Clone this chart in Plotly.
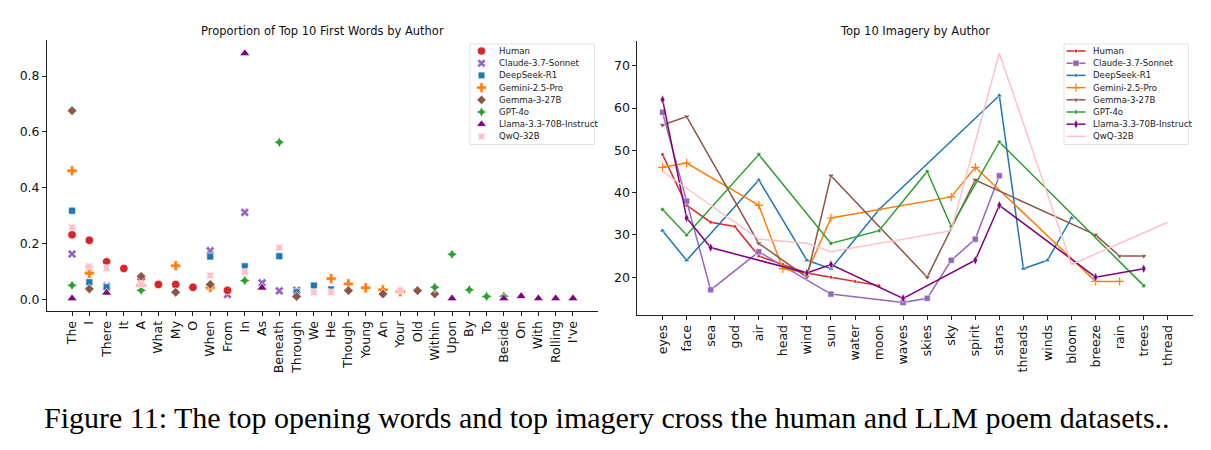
import plotly.graph_objects as go

N = None
# ---------------- Left panel data: proportion of top-10 first words ----------------
first_words = ["The", "I", "There", "It", "A", "What", "My", "O", "When", "From",
               "In", "As", "Beneath", "Through", "We", "He", "Though", "Young", "An", "Your",
               "Old", "Within", "Upon", "By", "To", "Beside", "On", "With", "Rolling", "I've"]

#            The    I      There  It     A      What   My     O      When   From
fw_human = [0.232, 0.212, 0.135, 0.111, 0.075, 0.054, 0.054, 0.044, 0.044, 0.033,
            N, N, N, N, N, N, N, N, N, N,
            N, N, N, N, N, N, N, N, N, N]
fw_claude = [0.163, 0.110, 0.048, N, 0.070, N, N, N, 0.175, 0.018,
             0.312, 0.060, 0.031, 0.033, N, N, N, N, N, N,
             N, N, N, N, N, N, N, N, N, N]
fw_deepseek = [0.318, 0.062, 0.044, N, N, N, N, N, 0.154, N,
               0.119, N, 0.155, 0.026, 0.050, 0.036, N, N, N, N,
               N, N, N, N, N, N, N, N, N, N]
fw_gemini = [0.461, 0.094, N, N, 0.050, N, 0.121, N, 0.043, N,
             N, N, N, N, N, 0.075, 0.056, 0.042, 0.035, 0.028,
             N, N, N, N, N, N, N, N, N, N]
fw_gemma = [0.676, 0.038, N, N, 0.083, N, 0.026, N, 0.054, N,
            N, N, N, 0.011, N, N, 0.032, N, 0.020, N,
            0.032, 0.020, N, N, N, N, N, N, N, N]
fw_gpt4o = [0.051, N, N, N, 0.033, N, N, N, N, N,
            0.068, N, 0.563, N, N, N, N, N, N, N,
            N, 0.044, 0.162, 0.035, 0.011, 0.012, N, N, N, N]
fw_llama = [0.004, N, 0.024, N, N, N, N, N, N, N,
            0.881, 0.042, N, N, N, N, N, N, N, N,
            N, N, 0.004, N, N, 0.004, 0.012, 0.004, 0.004, 0.004]
fw_qwq = [0.258, 0.119, 0.113, N, 0.054, N, N, N, 0.086, N,
          0.099, N, 0.186, N, 0.026, 0.026, N, N, N, 0.032,
          N, N, N, N, N, N, N, N, N, N]

# ---------------- Right panel data: top-10 imagery counts ----------------
imagery = ["eyes", "face", "sea", "god", "air", "head", "wind", "sun", "water", "moon",
           "waves", "skies", "sky", "spirit", "stars", "threads", "winds", "bloom", "breeze",
           "rain", "trees", "thread"]
#            eyes face sea god air head wind sun water moon waves skies sky spirit stars threads winds bloom breeze rain trees thread
im_human = [49, 37, 33, 32, 25, 23, 21, 20, 19, 18, N, N, N, N, N, N, N, N, N, N, N, N]
im_claude = [59, 38, 17, N, 26, N, N, 16, N, N, 14, 15, 24, 29, 44, N, N, N, N, N, N, N]
im_deepseek = [31, 24, N, N, 43, N, 24, 22, N, 36, N, N, N, N, 63, 22, 24, 34, N, N, N, N]
im_gemini = [46, 47, N, N, 37, 22, 21, 34, N, N, N, N, 39, 46, N, N, N, N, 19, 19, N, N]
im_gemma = [56, 58, N, N, 28, N, 20, 44, N, N, N, 20, N, 43, N, N, N, N, 30, 25, 25, N]
im_gpt4o = [36, 30, N, N, 49, N, N, 28, N, 31, N, 45, 32, N, 52, N, N, N, N, N, 18, N]
im_llama = [62, 34, 27, N, N, N, 21, 23, N, N, 15, N, N, 24, 37, N, N, N, 20, N, 22, N]
im_qwq = [45, N, N, N, 29, N, 28, 26, N, N, N, N, 31, N, 73, N, N, 23, N, N, N, 33]

authors = ["Human", "Claude-3.7-Sonnet", "DeepSeek-R1", "Gemini-2.5-Pro", "Gemma-3-27B",
           "GPT-4o", "Llama-3.3-70B-Instruct", "QwQ-32B"]
colors = ["#d62728", "#9467bd", "#1f77b4", "#ff7f0e", "#8c564b", "#2ca02c", "#800080", "#ffc0cb"]
fw_series = [fw_human, fw_claude, fw_deepseek, fw_gemini, fw_gemma, fw_gpt4o, fw_llama, fw_qwq]
im_series = [im_human, im_claude, im_deepseek, im_gemini, im_gemma, im_gpt4o, im_llama, im_qwq]

# scatter marker styles (seaborn defaults)
sc_sym = ["circle", "x", "square", "cross", "diamond", "star-diamond", "triangle-up", "star-diamond"]
sc_ang = [0, 0, 0, 0, 0, 0, 0, 45]
sc_size = [8.5, 8, 7, 8.5, 7.5, 8, 9, 8.5]
# line marker styles
ln_sym = ["circle", "square", "triangle-up", "cross-thin-open", "triangle-down", "circle",
          "diamond-tall", "circle"]
ln_size = [3.5, 6, 5, 6, 5.5, 4, 6.5, 0]

FONT = "DejaVu Sans"
W, H = 1211, 450
fig = go.Figure()

# draw order for the scatter (Claude under Human)
order = [1, 0, 2, 3, 4, 5, 6, 7]
for i in order:
    fig.add_trace(go.Scatter(
        x=first_words, y=fw_series[i], mode="markers", name=authors[i],
        marker=dict(symbol=sc_sym[i], angle=sc_ang[i], size=sc_size[i], color=colors[i],
                    line=dict(color="white", width=0.7)),
        xaxis="x", yaxis="y", showlegend=False, cliponaxis=False))

for i in range(8):
    mk = dict(symbol=ln_sym[i], size=ln_size[i], color=colors[i],
              line=dict(color=colors[i] if ln_sym[i].endswith("open") else "white",
                        width=1.2 if ln_sym[i].endswith("open") else 0.5))
    fig.add_trace(go.Scatter(
        x=imagery, y=im_series[i], mode="lines+markers" if ln_size[i] > 0 else "lines",
        name=authors[i], connectgaps=True,
        line=dict(color=colors[i], width=1.5), marker=mk,
        xaxis="x2", yaxis="y2", showlegend=False))

# ---------------- manual legends (pixel overlay axis) ----------------
leg_y = [51 + 12.2 * k for k in range(8)]
for k in range(8):
    fig.add_trace(go.Scatter(
        x=[481.5], y=[leg_y[k]], mode="markers", hoverinfo="skip",
        marker=dict(symbol=sc_sym[k], angle=sc_ang[k], size=sc_size[k] * 0.95, color=colors[k],
                    line=dict(color="white", width=0.6)),
        xaxis="x3", yaxis="y3", showlegend=False))
    fig.add_trace(go.Scatter(
        x=[1066.5, 1085.5], y=[leg_y[k], leg_y[k]], mode="lines", hoverinfo="skip",
        line=dict(color=colors[k], width=1.5), xaxis="x3", yaxis="y3", showlegend=False))
    if ln_size[k] > 0:
        mk = dict(symbol=ln_sym[k], size=ln_size[k], color=colors[k],
                  line=dict(color=colors[k] if ln_sym[k].endswith("open") else "white",
                            width=1.2 if ln_sym[k].endswith("open") else 0.5))
        fig.add_trace(go.Scatter(x=[1076], y=[leg_y[k]], mode="markers", marker=mk,
                                 hoverinfo="skip", xaxis="x3", yaxis="y3", showlegend=False))

annotations = []
for k in range(8):
    for xs in (496.5, 1090.5):
        annotations.append(dict(x=xs, y=leg_y[k], xref="x3", yref="y3", text=authors[k],
                                showarrow=False, xanchor="left", yanchor="middle",
                                font=dict(family=FONT, size=8.6, color="#222")))

shapes = [
    dict(type="rect", xref="x3", yref="y3", x0=470, x1=594.5, y0=44, y1=144.5,
         line=dict(color="#dcdcdc", width=0.8), fillcolor="rgba(255,255,255,0.8)", layer="below"),
    dict(type="rect", xref="x3", yref="y3", x0=1064, x1=1188.5, y0=44, y1=144.5,
         line=dict(color="#dcdcdc", width=0.8), fillcolor="rgba(255,255,255,0.8)", layer="below"),
]

# titles and caption
annotations += [
    dict(x=322.5, y=31, xref="x3", yref="y3", text="Proportion of Top 10 First Words by Author",
         showarrow=False, xanchor="center", yanchor="middle",
         font=dict(family=FONT, size=11.5, color="#111")),
    dict(x=915, y=31, xref="x3", yref="y3", text="Top 10 Imagery by Author",
         showarrow=False, xanchor="center", yanchor="middle",
         font=dict(family=FONT, size=11.5, color="#111")),
    dict(x=607, y=417, xref="x3", yref="y3",
         text="Figure 11: The top opening words and top imagery cross the human and LLM poem datasets..",
         showarrow=False, xanchor="center", yanchor="middle",
         font=dict(family="Liberation Serif", size=30, color="#000")),
]

axis_common = dict(showline=True, linecolor="#222", linewidth=0.9, showgrid=False, zeroline=False,
                   ticks="outside", ticklen=4, tickwidth=0.9, tickcolor="#222",
                   tickfont=dict(family=FONT, size=12.5, color="#111"))

fig.update_layout(
    width=W, height=H, margin=dict(l=0, r=0, t=0, b=0),
    paper_bgcolor="white", plot_bgcolor="rgba(0,0,0,0)", showlegend=False,
    xaxis=dict(domain=[47 / W, 598 / W], anchor="y", type="category",
               range=[-1.45, 30.45], tickangle=-90, **axis_common),
    yaxis=dict(domain=[1 - 311 / H, 1 - 40 / H], anchor="x", range=[-0.041, 0.929],
               tickvals=[0, 0.2, 0.4, 0.6, 0.8], ticktext=["0.0", "0.2", "0.4", "0.6", "0.8"],
               **axis_common),
    xaxis2=dict(domain=[637.3 / W, 1193 / W], anchor="y2", type="category",
                range=[-1.05, 22.05], tickangle=-90, **axis_common),
    yaxis2=dict(domain=[1 - 315 / H, 1 - 40.7 / H], anchor="x2", range=[11.05, 75.95],
                tickvals=[20, 30, 40, 50, 60, 70], **axis_common),
    xaxis3=dict(domain=[0, 1], anchor="y3", range=[0, W], visible=False, fixedrange=True),
    yaxis3=dict(domain=[0, 1], anchor="x3", range=[H, 0], visible=False, fixedrange=True),
    annotations=annotations, shapes=shapes,
)

fig.write_html("out.html")
